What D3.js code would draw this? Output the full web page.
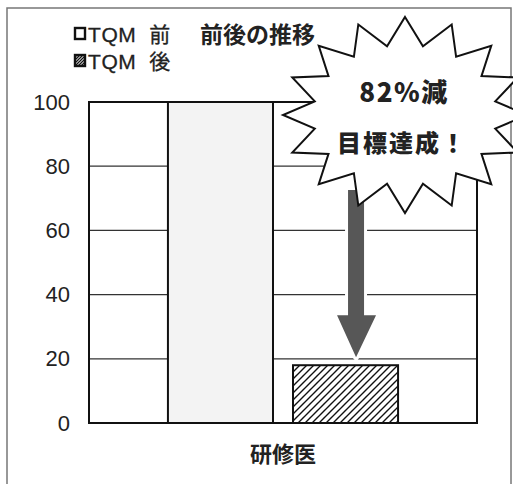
<!DOCTYPE html>
<html>
<head>
<meta charset="utf-8">
<script src="https://cdn.jsdelivr.net/npm/d3@7"></script>
<style>
  body { margin: 0; background: #fff; }
  svg { display: block; }
  text { font-family: "Noto Sans CJK JP", "Liberation Sans", sans-serif; fill: #222; }
  .num { font-family: "Liberation Sans", Arial, sans-serif; }
</style>
</head>
<body>
<svg id="chart" width="513" height="484"></svg>
<script>
// data
const categories = ['研修医']
const seriesNames = ['TQM 前', 'TQM 後']
const values = [100, 18]
const yTicks = [0, 20, 40, 60, 80, 100]
const title = '前後の推移'
const callout = ['82%減', '目標達成！']

const W = 513, H = 484
const plot = { left: 89, right: 477, top: 102, bottom: 423 }

const svg = d3.select('#chart')

// hatch pattern for TQM 後
const defs = svg.append('defs')
defs.append('pattern')
  .attr('id', 'hatch')
  .attr('patternUnits', 'userSpaceOnUse')
  .attr('width', 7).attr('height', 7)
  .append('path')
  .attr('d', 'M-1,1 l2,-2 M0,7 l7,-7 M6,8 l2,-2')
  .attr('stroke', '#111')
  .attr('stroke-width', 1.4)

defs.append('pattern')
  .attr('id', 'hatchSmall')
  .attr('patternUnits', 'userSpaceOnUse')
  .attr('width', 3).attr('height', 3)
  .append('path')
  .attr('d', 'M-1,1 l2,-2 M0,3 l3,-3 M2,4 l2,-2')
  .attr('stroke', '#111')
  .attr('stroke-width', 1.3)

// outer frame
svg.append('rect')
  .attr('x', 7).attr('y', 8)
  .attr('width', 504).attr('height', 500)
  .attr('fill', 'none')
  .attr('stroke', '#777')
  .attr('stroke-width', 1.5)

// scales
const y = d3.scaleLinear().domain([0, 100]).range([plot.bottom, plot.top])
const x0 = d3.scaleBand().domain(categories)
  .range([plot.left, plot.right])
  .paddingInner(0).paddingOuter(0.343)
const x1 = d3.scaleBand().domain(seriesNames)
  .range([0, x0.bandwidth()])
  .paddingInner(0.16)

// gridlines
svg.append('g')
  .selectAll('line.grid')
  .data(yTicks.filter(d => d > 0 && d < 100))
  .enter()
  .append('line')
  .classed('grid', true)
  .attr('x1', plot.left).attr('x2', plot.right)
  .attr('y1', d => y(d)).attr('y2', d => y(d))
  .attr('stroke', '#333')
  .attr('stroke-width', 1.2)

// y axis labels
const yAxis = d3.axisLeft(y).tickValues(yTicks).tickSize(0).tickPadding(19)
const gy = svg.append('g')
  .attr('transform', `translate(${plot.left},0)`)
  .call(yAxis)
gy.select('.domain').remove()
gy.selectAll('text')
  .attr('class', 'num')
  .style('font-size', '22px')
  .attr('fill', '#222')

// plot border
svg.append('rect')
  .attr('x', plot.left).attr('y', plot.top)
  .attr('width', plot.right - plot.left)
  .attr('height', plot.bottom - plot.top)
  .attr('fill', 'none')
  .attr('stroke', '#111')
  .attr('stroke-width', 2)

// bars
const fills = ['#f3f3f3', 'url(#hatch)']
const barData = seriesNames.map((s, i) => ({ cat: categories[0], s, v: values[i], i }))
svg.append('g')
  .selectAll('rect.bar')
  .data(barData)
  .enter()
  .append('rect')
  .classed('bar', true)
  .attr('x', d => x0(d.cat) + x1(d.s))
  .attr('y', d => y(d.v))
  .attr('width', x1.bandwidth())
  .attr('height', d => y(0) - y(d.v))
  .attr('fill', d => fills[d.i])
  .attr('stroke', '#111')
  .attr('stroke-width', 2)

// x category label
svg.append('text')
  .attr('x', x0(categories[0]) + x0.bandwidth() / 2)
  .attr('y', 462)
  .attr('text-anchor', 'middle')
  .style('font-size', '22px')
  .style('font-weight', 'bold')
  .text(categories[0])

// arrow from 100 down to 18
const ax = x0(categories[0]) + x1(seriesNames[1]) + x1.bandwidth() * 0.6
const tipY = y(values[1]) - 8
const headY = tipY - 42
const arrowPts = [
  [ax - 8, 190], [ax + 8, 190], [ax + 8, headY], [ax + 20, headY],
  [ax, tipY], [ax - 19, headY], [ax - 8, headY]
]
svg.append('polygon')
  .attr('points', arrowPts.map(p => p.join(',')).join(' '))
  .attr('fill', '#575757')
  .attr('stroke', '#fff')
  .attr('stroke-width', 6)
  .attr('stroke-linejoin', 'round')
  .style('paint-order', 'stroke')

// starburst callout
const cx = 405, cy = 115
const nSpikes = 16
const starPts = d3.range(nSpikes * 2).map(k => {
  const a = -Math.PI / 2 + k * Math.PI / nSpikes
  const outer = k % 2 === 0
  const rx = outer ? 122 : 92
  const ry = outer ? 98 : 70
  return [cx + rx * Math.cos(a), cy + ry * Math.sin(a)]
})
svg.append('polygon')
  .attr('points', starPts.map(p => p.join(',')).join(' '))
  .attr('fill', '#fff')
  .attr('stroke', '#111')
  .attr('stroke-width', 2)
  .attr('stroke-linejoin', 'miter')

svg.selectAll('text.callout')
  .data(callout)
  .enter()
  .append('text')
  .classed('callout', true)
  .attr('x', (d, i) => i === 0 ? 404 : 402)
  .attr('y', (d, i) => i === 0 ? 102 : 152)
  .attr('text-anchor', 'middle')
  .style('font-size', (d, i) => i === 0 ? '26px' : '24px')
  .style('font-weight', '900')
  .style('letter-spacing', (d, i) => i === 0 ? '1.5px' : '2px')
  .attr('fill', '#2a2a2a')
  .text(d => d)

// title
svg.append('text')
  .attr('x', 200).attr('y', 43)
  .style('font-size', '23px')
  .style('font-weight', 'bold')
  .text(title)

// legend
const legend = svg.append('g')
legend.selectAll('rect.key')
  .data(seriesNames)
  .enter()
  .append('rect')
  .classed('key', true)
  .attr('x', 75)
  .attr('y', (d, i) => 28 + i * 27)
  .attr('width', 10).attr('height', 11)
  .attr('fill', (d, i) => i === 0 ? '#fff' : 'url(#hatchSmall)')
  .attr('stroke', '#111')
  .attr('stroke-width', 2.4)
legend.selectAll('text.key')
  .data(seriesNames)
  .enter()
  .append('text')
  .classed('key', true)
  .attr('x', 88)
  .attr('y', (d, i) => 42 + i * 27)
  .style('font-family', '"Liberation Sans", "Noto Sans CJK JP", sans-serif')
  .style('font-size', '21px')
  .style('letter-spacing', '0.6px')
  .attr('fill', '#222')
  .attr('stroke', '#222')
  .attr('stroke-width', 0.3)
  .text(d => d.replace(' ', '\u00a0\u00a0'))
</script>
</body>
</html>
